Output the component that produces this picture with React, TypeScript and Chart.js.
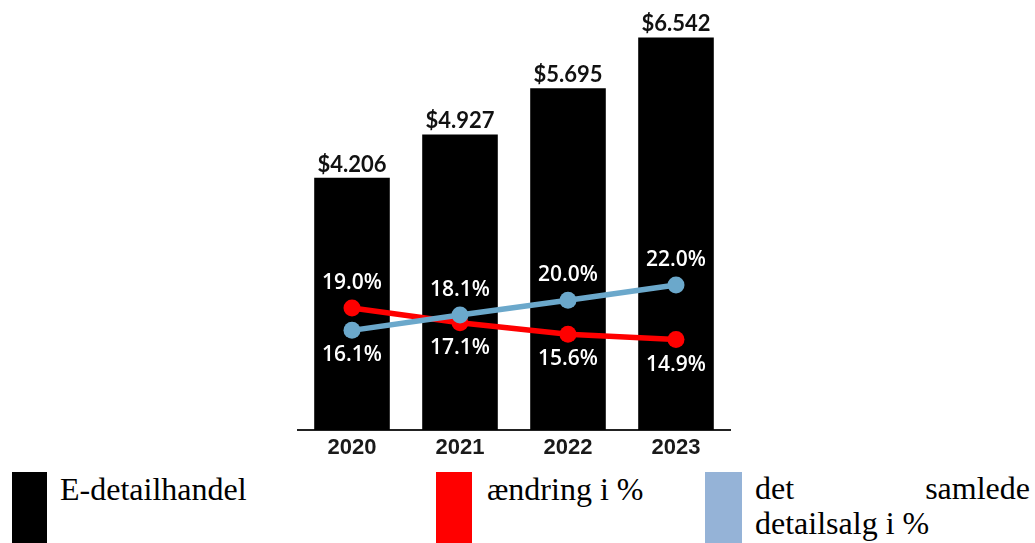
import React, { useEffect, useRef } from "react";
import { Chart, registerables } from "chart.js";

Chart.register(...registerables);

const categories = ["2020", "2021", "2022", "2023"];
const retailValues = [4.206, 4.927, 5.695, 6.542];
const retailLabels = ["$4.206", "$4.927", "$5.695", "$6.542"];
const changePct = [19.0, 17.1, 15.6, 14.9];
const totalSharePct = [16.1, 18.1, 20.0, 22.0];
// label placement: true = above the point, false = below
const changeAbove = [true, false, false, false];
const shareAbove = [false, true, true, true];

const legendItems = ["E-detailhandel", "ændring i %", "det samlede detailsalg i %"];

const BAR_COLOR = "#000000";
const RED = "#FF0000";
const BLUE = "#6BA8CB";
const BLUE_SWATCH = "#95B3D7";

export default function App() {
  const canvasRef = useRef<HTMLCanvasElement | null>(null);

  useEffect(() => {
    document.body.style.margin = "0";
    const canvas = canvasRef.current;
    if (!canvas) return;

    const labelPlugin = {
      id: "valueLabels",
      afterDatasetsDraw(chart: any) {
        const ctx = chart.ctx;
        ctx.save();
        // bar labels
        const barMeta = chart.getDatasetMeta(0);
        ctx.fillStyle = "#111111";
        ctx.font = "bold 22px Lato";
        ctx.textAlign = "center";
        ctx.textBaseline = "alphabetic";
        barMeta.data.forEach((el: any, i: number) => {
          ctx.fillText(retailLabels[i], el.x, el.y - 6);
        });
        // percent labels
        ctx.fillStyle = "#ffffff";
        ctx.font = "600 21px 'Open Sans'";
        const drawPct = (dsIndex: number, values: number[], above: boolean[]) => {
          const meta = chart.getDatasetMeta(dsIndex);
          meta.data.forEach((el: any, i: number) => {
            const txt = values[i].toFixed(1) + "%";
            const y = above[i] ? el.y - 19 : el.y + 31;
            ctx.fillText(txt, el.x, y);
          });
        };
        drawPct(1, changePct, changeAbove);
        drawPct(2, totalSharePct, shareAbove);
        ctx.restore();
      },
    };

    const chart = new Chart(canvas, {
      type: "bar",
      data: {
        labels: categories,
        datasets: [
          {
            type: "bar",
            label: legendItems[0],
            data: retailValues,
            backgroundColor: BAR_COLOR,
            barPercentage: 0.7,
            categoryPercentage: 1.0,
            yAxisID: "y",
            order: 3,
          },
          {
            type: "line",
            label: legendItems[1],
            data: changePct,
            borderColor: RED,
            backgroundColor: RED,
            borderWidth: 5.5,
            pointRadius: 8.5,
            pointHoverRadius: 8.5,
            pointBorderWidth: 0,
            yAxisID: "y1",
            order: 2,
          },
          {
            type: "line",
            label: legendItems[2],
            data: totalSharePct,
            borderColor: BLUE,
            backgroundColor: BLUE,
            borderWidth: 5.5,
            pointRadius: 8.5,
            pointHoverRadius: 8.5,
            pointBorderWidth: 0,
            yAxisID: "y1",
            order: 1,
          },
        ],
      },
      options: {
        responsive: false,
        animation: false,
        layout: { padding: { left: 298, right: 305, top: 10, bottom: 0 } },
        plugins: {
          legend: { display: false },
          tooltip: { enabled: false },
          title: { display: false },
        },
        scales: {
          x: {
            grid: { display: false, drawTicks: false },
            border: { display: true, color: "#222222", width: 2 },
            ticks: {
              color: "#1a1a1a",
              font: { family: "'Liberation Sans', Arial", size: 22, weight: "bold" },
              padding: 5,
            },
            afterFit: (scale: any) => {
              scale.height = 35;
            },
          },
          y: { display: false, min: 0, max: 7 },
          y1: { display: false, min: 3.16, max: 57.7, position: "right" },
        },
      },
      plugins: [labelPlugin],
    } as any);

    return () => chart.destroy();
  }, []);

  const serif: React.CSSProperties = {
    fontFamily: "'Liberation Serif', 'Times New Roman', serif",
    fontSize: "32px",
    lineHeight: "35px",
    color: "#000",
    position: "absolute",
    whiteSpace: "nowrap",
  };

  return (
    <div style={{ position: "relative", width: 1035, height: 543, overflow: "hidden", background: "#fff" }}>
      <canvas
        ref={canvasRef}
        width={1035}
        height={465}
        style={{ position: "absolute", left: 0, top: 0, width: 1035, height: 465 }}
      />
      <div style={{ position: "absolute", left: 12, top: 472, width: 35, height: 71, background: BAR_COLOR }} />
      <div style={{ ...serif, left: 60, top: 472 }}>{legendItems[0]}</div>
      <div style={{ position: "absolute", left: 436, top: 472, width: 36, height: 71, background: RED }} />
      <div style={{ ...serif, left: 487, top: 472 }}>{legendItems[1]}</div>
      <div style={{ position: "absolute", left: 705, top: 472, width: 37, height: 71, background: BLUE_SWATCH }} />
      <div style={{ ...serif, left: 755, top: 471, width: 275 }}>
        <div style={{ display: "flex", justifyContent: "space-between" }}>
          <span>det</span>
          <span>samlede</span>
        </div>
        <div>detailsalg i %</div>
      </div>
    </div>
  );
}
